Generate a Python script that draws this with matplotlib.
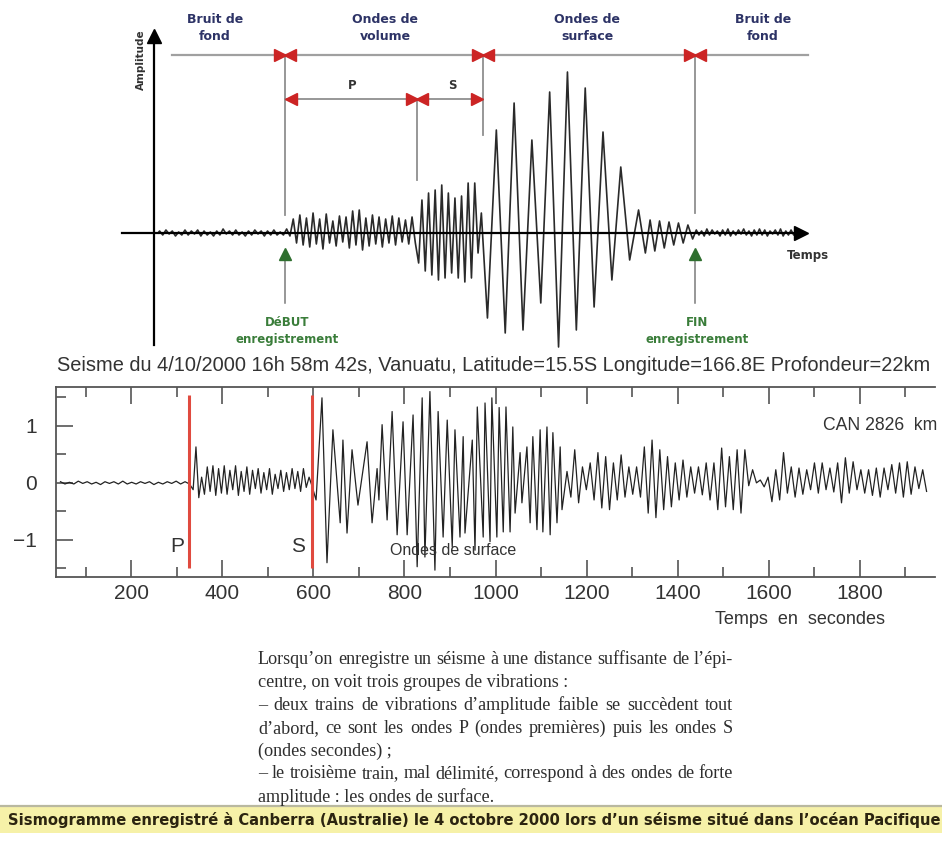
import numpy as np
import matplotlib
matplotlib.use("Agg")
import matplotlib.pyplot as plt
from matplotlib.patches import Rectangle

# ====================== DATA ======================
# --- top schematic (arbitrary time units along the schematic axis) ---
group_labels = ["Bruit de\nfond", "Ondes de\nvolume", "Ondes de\nsurface", "Bruit de\nfond"]
phase_labels = ["P", "S"]
t_noise_start = 158
t_P = 285          # début enregistrement / arrivée P
t_S = 417          # arrivée S
t_surf = 483       # ondes de surface
t_coda = 643
t_fin = 695        # fin enregistrement
t_noise_end = 795

noise1_amp = [2, -2, 3, -1, 2, -3, 1, -2, 3, -2, 2, -1, 3, -3, 2, -2, 1, -3, 2, -2, 4,
              -1, 2, -2, 3, -2, 1, -3, 2, -2, 3, -1, 2, -3, 2, -2, 3, -2, 1, -2]
P_amp = [4, -3, 14, -10, 18, -12, 15, -14, 20, -11, 14, -16, 19, -10, 12, -13, 17, -9, 16, -15,
         22, -12, 23, -17, 15, -13, 18, -11, 16, -14, 14, -10, 17, -12, 15, -9, 13, -11, 16, -10]
S_amp = [-30, 33, -38, 40, -42, 43, -47, 48, -45, 40, -40, 35, -45, 37, -49, 50, -45, 50, -20, 20]
surf_amp = [-85, 103, -100, 130, -97, 93, -70, 141, -114, 161, -97, 145, -74, 101, -47, 66, -27, 23]
coda_amp = [-20, 13, -18, 12, -15, 11, -12, 10, -10, 8, -6]
noise2_amp = [3, -2, 2, -3, 4, -2, 3, -1, 2, -3, 3, -2, 4, -3, 2, -2, 3, -1, 4, -2, 2,
              -3, 3, -2, 4, -2, 3, -3, 2, -1, 3, -2, 4, -3, 2, -2, 3, -2]

# --- lower seismogram (time in s, amplitude in recorded units) ---
title_text = "Seisme du 4/10/2000 16h 58m 42s, Vanuatu, Latitude=15.5S Longitude=166.8E Profondeur=22km"
station_text = "CAN 2826  km"
x_major = [200, 400, 600, 800, 1000, 1200, 1400, 1600, 1800]
x_minor = [100, 300, 500, 700, 900, 1100, 1300, 1500, 1700, 1900]
y_major = [-1, 0, 1]
y_minor = [-1.5, -0.5, 0.5, 1.5]
t_P_arrival = 326
t_S_arrival = 596

quiet_span = (40, 333)
quiet_amp = [0.02, -0.02, 0.01, -0.02, 0.03, -0.01, 0.02, -0.02, 0.01, -0.03, 0.02, -0.01, 0.02,
             -0.02, 0.03, -0.02, 0.01, -0.02, 0.02, -0.01, 0.02, -0.03, 0.01, -0.02, 0.02, -0.01,
             0.03, -0.02, 0.02, -0.02]
p_span = (333, 600)
p_amp = [-0.12, 0.63, -0.26, 0.10, -0.20, 0.28, -0.15, 0.30, -0.22, 0.25, -0.18, 0.30, -0.20,
         0.22, -0.12, 0.30, -0.22, 0.20, -0.15, 0.28, -0.20, 0.22, -0.10, 0.25, -0.18, 0.18,
         -0.12, 0.25, -0.20, 0.15, -0.10, 0.22, -0.15, 0.18, -0.12, 0.25, -0.10, 0.20, -0.15,
         0.25, -0.08, 0.10, -0.05]
surf_peak_t = [619, 643, 665, 685, 718, 740, 751, 773, 797, 819, 839, 856, 874, 894, 911, 929,
               949, 960, 977, 992, 1008, 1023, 1038, 1054, 1069, 1082, 1098, 1113, 1126, 1142]
surf_peak_a = [1.49, 0.93, 0.75, 0.58, 0.72, 0.25, 1.02, 1.25, 1.07, 1.19, 1.49, 1.60, 1.25, 1.10,
               0.93, 0.81, 0.75, 1.33, 1.40, 1.49, 1.32, 1.33, 0.98, 0.53, 0.63, 0.81, 0.93, 0.98,
               0.88, 0.63]
surf_trough_t = [606, 630, 659, 674, 698, 729, 744, 762, 784, 806, 828, 845, 867, 885, 905, 922,
                 933, 955, 973, 988, 1003, 1017, 1032, 1043, 1058, 1076, 1091, 1104, 1120, 1135, 1146]
surf_trough_a = [-0.30, -1.40, -0.70, -0.88, -0.39, -0.70, -0.30, -0.65, -0.91, -0.91, -1.47,
                 -1.30, -1.53, -0.95, -1.12, -0.95, -0.88, -1.18, -0.95, -1.03, -0.95, -0.86,
                 -0.86, -0.53, -0.35, -0.70, -0.82, -0.86, -0.91, -0.70, -0.47]
tail_span = (1150, 1948)
tail_max = [0.20, 0.58, 0.28, 0.35, 0.53, 0.46, 0.35, 0.49, 0.28, 0.28, 0.63, 0.75, 0.58, 0.46,
            0.35, 0.40, 0.28, 0.28, 0.35, 0.35, 0.61, 0.46, 0.58, 0.58, 0.23, 0.05, 0.10, 0.23,
            0.53, 0.28, 0.26, 0.23, 0.35, 0.35, 0.26, 0.35, 0.44, 0.37, 0.23, 0.23, 0.26, 0.26,
            0.32, 0.35, 0.37, 0.28, 0.23]
tail_min = [-0.25, -0.35, -0.12, -0.30, -0.44, -0.47, -0.30, -0.25, -0.20, -0.25, -0.53, -0.61,
            -0.47, -0.42, -0.30, -0.25, -0.18, -0.21, -0.30, -0.47, -0.42, -0.47, -0.53, -0.05,
            -0.00, -0.07, -0.33, -0.30, -0.18, -0.25, -0.20, -0.12, -0.18, -0.12, -0.16, -0.35,
            -0.18, -0.12, -0.18, -0.22, -0.25, -0.12, -0.18, -0.25, -0.20, -0.10, -0.15]

paragraph = [
    ("Lorsqu\u2019on enregistre un séisme à une distance suffisante de l\u2019épi-", True),
    ("centre, on voit trois groupes de vibrations :", False),
    ("\u2013 deux trains de vibrations d\u2019amplitude faible se succèdent tout", True),
    ("d\u2019abord, ce sont les ondes P (ondes premières) puis les ondes S", True),
    ("(ondes secondes) ;", False),
    ("\u2013 le troisième train, mal délimité, correspond à des ondes de forte", True),
    ("amplitude : les ondes de surface.", False),
]
banner_text = ("Sismogramme enregistré à Canberra (Australie) le 4 octobre 2000 lors d\u2019un "
               "séisme situé dans l\u2019océan Pacifique")

# ====================== FIGURE ======================
W, H = 942, 841
fig = plt.figure(figsize=(W / 100, H / 100), dpi=100)
fig.patch.set_facecolor("white")
R = fig.canvas.get_renderer()

def fit_width(t, target):
    w = t.get_window_extent(R).width
    t.set_fontsize(t.get_fontsize() * target / w)

# ---------- lower seismogram axes ----------
L, Rr, T, B = 56, 935, 387, 577
ax = fig.add_axes([L / W, 1 - B / H, (Rr - L) / W, (B - T) / H])
ax.set_xlim(35, 1965)
ax.set_ylim(-1.65, 1.68)

def segment(span, amps):
    n = len(amps)
    tt = span[0] + (np.arange(n) + 0.5) * (span[1] - span[0]) / n
    return list(tt), list(amps)

ts, ys = [], []
for span, amps in [(quiet_span, quiet_amp), (p_span, p_amp)]:
    a, b = segment(span, amps)
    ts += a; ys += b
sp = list(zip(surf_peak_t, surf_peak_a)) + list(zip(surf_trough_t, surf_trough_a))
sp.sort()
ts += [p[0] for p in sp]; ys += [p[1] for p in sp]
n_tail = len(tail_max)
dt = (tail_span[1] - tail_span[0]) / n_tail
for i in range(n_tail):
    ts.append(tail_span[0] + 7 + i * dt); ys.append(tail_max[i])
    ts.append(tail_span[0] + 7 + (i + 0.5) * dt); ys.append(tail_min[i])
ax.plot(ts, ys, color="#222222", lw=0.9)

for tp in (t_P_arrival, t_S_arrival):
    ax.vlines(tp, -1.5, 1.54, color="#e04a3f", lw=2.2, zorder=3)

for s in ("left", "bottom", "top"):
    ax.spines[s].set_color("#555555")
    ax.spines[s].set_linewidth(1.3)
ax.spines["right"].set_visible(False)
ax.set_xticks(x_major)
ax.set_xticks(x_minor, minor=True)
ax.set_yticks(y_major)
ax.set_yticks(y_minor, minor=True)
ax.set_yticklabels(["\u22121", "0", "1"])
ax.tick_params(which="both", direction="in", top=True, bottom=True, left=True, right=False,
               color="#555555", width=1.2)
ax.tick_params(which="major", length=12)
ax.tick_params(which="minor", length=7)
ax.tick_params(axis="x", which="major", pad=5, labelsize=15, labelcolor="#333333")
ax.tick_params(axis="y", which="major", pad=14, labelsize=15, labelcolor="#333333")
for lab in ax.get_xticklabels() + ax.get_yticklabels():
    lab.set_family(["Liberation Sans", "DejaVu Sans"])

ax.text(301, -1.12, phase_labels[0], ha="center", va="center", fontsize=15,
        family=["Liberation Sans", "DejaVu Sans"], color="#333333")
ax.text(567, -1.12, phase_labels[1], ha="center", va="center", fontsize=15,
        family=["Liberation Sans", "DejaVu Sans"], color="#333333")
ax.text(907, -1.18, "Ondes de surface", ha="center", va="center", fontsize=11.5,
        family=["Liberation Sans", "DejaVu Sans"], color="#333333")

# ---------- overlay axes in pixel coordinates ----------
ov = fig.add_axes([0, 0, 1, 1], zorder=5)
ov.set_xlim(0, W)
ov.set_ylim(H, 0)
ov.axis("off")
ov.patch.set_alpha(0)

# --- schematic seismogram ---
base_y = 233
def sch_segment(t0, t1, amps):
    n = len(amps)
    tt = t0 + (np.arange(n) + 0.5) * (t1 - t0) / n
    return list(tt), list(amps)

sx, sy = [t_noise_start], [0]
for t0, t1, amps in [(t_noise_start, t_P, noise1_amp), (t_P, t_S, P_amp), (t_S, t_surf, S_amp),
                     (t_surf, t_coda, surf_amp), (t_coda, t_fin, coda_amp),
                     (t_fin, t_noise_end, noise2_amp)]:
    a, b = sch_segment(t0, t1, amps)
    sx += a; sy += b
sx.append(t_noise_end); sy.append(0)
ov.plot(sx, [base_y - v for v in sy], color="#2a2a2a", lw=1.2, zorder=3)

# axes of schematic
ov.plot([122, 800], [base_y, base_y], color="black", lw=1.6, zorder=4)
ov.plot([801], [base_y], marker=">", color="black", ms=10, zorder=4)
ov.plot([154, 154], [345, 40], color="black", lw=1.6)
ov.plot([154], [36], marker="^", color="black", ms=10)
ov.text(141, 60, "Amplitude", rotation=90, ha="center", va="center", fontsize=7.5,
        fontweight="bold", color="#333333")
ov.text(808, 255, "Temps", ha="center", va="center", fontsize=8.5, fontweight="bold",
        color="#333333")

# top group line & boundaries
gray = "#8f8f8f"
red = "#cc2424"
navy = "#2d3366"
ov.plot([172, 808], [55, 55], color="#a0a0a0", lw=1.6, zorder=2)
for xb, ybot in [(t_P, 215), (t_surf, 135), (t_fin, 213)]:
    ov.plot([xb, xb], [55, ybot], color=gray, lw=1.3, zorder=2)
    ov.plot([xb - 5], [55], marker=">", color=red, ms=9, zorder=5)
    ov.plot([xb + 5], [55], marker="<", color=red, ms=9, zorder=5)
ov.plot([t_S, t_S], [99, 180], color=gray, lw=1.3, zorder=2)
ov.plot([t_P, t_surf], [99, 99], color=gray, lw=1.3, zorder=2)
ov.plot([t_P + 6], [99], marker="<", color=red, ms=9, zorder=5)
ov.plot([t_S - 5], [99], marker=">", color=red, ms=9, zorder=5)
ov.plot([t_S + 5], [99], marker="<", color=red, ms=9, zorder=5)
ov.plot([t_surf - 6], [99], marker=">", color=red, ms=9, zorder=5)
ov.text(352, 85, phase_labels[0], ha="center", va="center", fontsize=8.5, fontweight="bold",
        color="#333333")
ov.text(452, 85, phase_labels[1], ha="center", va="center", fontsize=8.5, fontweight="bold",
        color="#333333")
for xc, lab in zip([215, 385, 587, 763], group_labels):
    ov.text(xc, 28, lab, ha="center", va="center", fontsize=9, fontweight="bold",
            color=navy, linespacing=1.35)

# green start/end arrows
green = "#3a7d3a"
for xb, lab in [(t_P, "DéBUT"), (t_fin, "FIN")]:
    ov.plot([xb, xb], [258, 303], color="#7a7a7a", lw=1.1)
    ov.plot([xb], [254], marker="^", color="#2f6f2f", ms=9)
    ov.text(xb + 2, 322, lab, ha="center", va="center", fontsize=8.5, fontweight="bold",
            color=green)
    ov.text(xb + 2, 339, "enregistrement", ha="center", va="center", fontsize=8.5,
            fontweight="bold", color=green)

# --- lower plot title & labels ---
tt = ov.text(57, 365, title_text, ha="left", va="center", fontsize=15,
             family=["Liberation Sans", "DejaVu Sans"], color="#333333")
fit_width(tt, 878)
st = ov.text(937, 425, station_text, ha="right", va="center", fontsize=15,
             family=["Liberation Sans", "DejaVu Sans"], color="#333333")
fit_width(st, 115)
xl = ov.text(715, 620, "Temps  en  secondes", ha="left", va="center", fontsize=15,
             family=["Liberation Sans", "DejaVu Sans"], color="#333333")
fit_width(xl, 170)

# --- paragraph (justified) ---
px0, px1 = 258, 733
serif = ["Liberation Serif", "DejaVu Serif"]
probe = ov.text(px0, 0, paragraph[0][0], fontsize=12, family=serif)
fit_width(probe, px1 - px0)
pfs = probe.get_fontsize()
probe.remove()
for i, (line, just) in enumerate(paragraph):
    y = 660 + 22.8 * i
    if not just:
        ov.text(px0, y, line, ha="left", va="center", fontsize=pfs, family=serif,
                color="#2e2e2e")
        continue
    words = line.split(" ")
    objs = [ov.text(px0, y, w, ha="left", va="center", fontsize=pfs, family=serif,
                    color="#2e2e2e") for w in words]
    widths = [o.get_window_extent(R).width for o in objs]
    gap = (px1 - px0 - sum(widths)) / (len(words) - 1)
    x = px0
    for o, w in zip(objs, widths):
        o.set_x(x)
        x += w + gap

# --- bottom banner ---
ov.add_patch(Rectangle((0, 806), W, 27, facecolor="#f6f1a8", edgecolor="none", zorder=1))
ov.plot([0, W], [806, 806], color="#b9b8a0", lw=1.6, zorder=2)
bt = ov.text(8, 820, banner_text, ha="left", va="center", fontsize=12, fontweight="bold",
             family=["DejaVu Sans"], fontstretch="condensed", color="#2b2410", zorder=3)
fit_width(bt, 926)

fig.savefig("out.png", dpi=100, facecolor="white")
